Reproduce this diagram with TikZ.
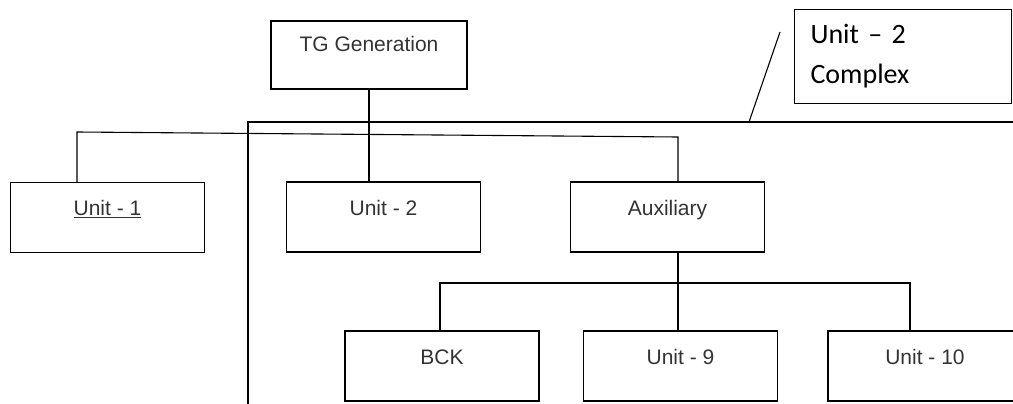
\documentclass[tikz,border=0pt]{standalone}
\usepackage{fontspec}
\newfontfamily\boxfont{Liberation Sans}
\newfontfamily\notefont{Carlito}
\usetikzlibrary{calc}

\begin{document}
\begin{tikzpicture}[
		x=1pt, y=-1pt,
		line width=1.1pt,
		unitbox/.style={draw, rectangle, inner sep=0pt, minimum width=194pt, minimum height=70pt},
		toptext/.style={anchor=base, yshift=-34pt, inner sep=0pt, text=black!80, font=\boxfont\fontsize{21}{25}\selectfont},
		notebox/.style={draw, rectangle, inner xsep=16pt, inner ysep=0pt, minimum height=94pt}]
		\clip (0,0) rectangle (1013,404);

		\node[unitbox, minimum width=196pt, minimum height=68pt,
			label={[toptext, yshift=3pt]north:TG Generation}] (tg) at (369,55) {};
		\node[unitbox, label={[toptext]north:\underline{Unit - 1}}] (u1) at (107.5,217.5) {};
		\node[unitbox, label={[toptext]north:Unit - 2}] (u2) at (383.5,217) {};
		\node[unitbox, label={[toptext]north:Auxiliary}] (aux) at (667.5,217) {};
		\node[unitbox, label={[toptext]north:BCK}] (bck) at (442,366) {};
		\node[unitbox, label={[toptext]north:Unit - 9}] (u9) at (680.5,366) {};
		\node[unitbox, label={[toptext]north:Unit - 10}] (u10) at (925,366) {};
		\node[notebox, align=left, anchor=north west, text width=185pt,
			font=\notefont\fontsize{28}{40}\selectfont] (cx) at (794,9)
			{Unit – 2\\Complex};

		\coordinate (jl) at (77,132);
		\coordinate (jr) at (678,137);
		\coordinate (bl) at (440,283);
		\coordinate (br) at (910,283);
		\coordinate (fr) at (248,122);
		\coordinate (tick) at (749,122);
		\coordinate (tickend) at (780,32);

		% complex frame
		\draw (1020,122) -- (fr) -- (248,410);
		\draw (tick) -- (tickend);

		\draw (tg.south) -- (tg.south |- u2.north);
		\draw (u1.north -| jl) -- (jl) -- (jr) -- (aux.north -| jr);
		\draw (aux.south -| jr) -- (jr |- bl);
		\draw (bck.north -| bl) -- (bl) -- (br) -- (u10.north -| br);
		\draw (jr |- bl) -- (u9.north -| jr);
\end{tikzpicture}
\end{document}
